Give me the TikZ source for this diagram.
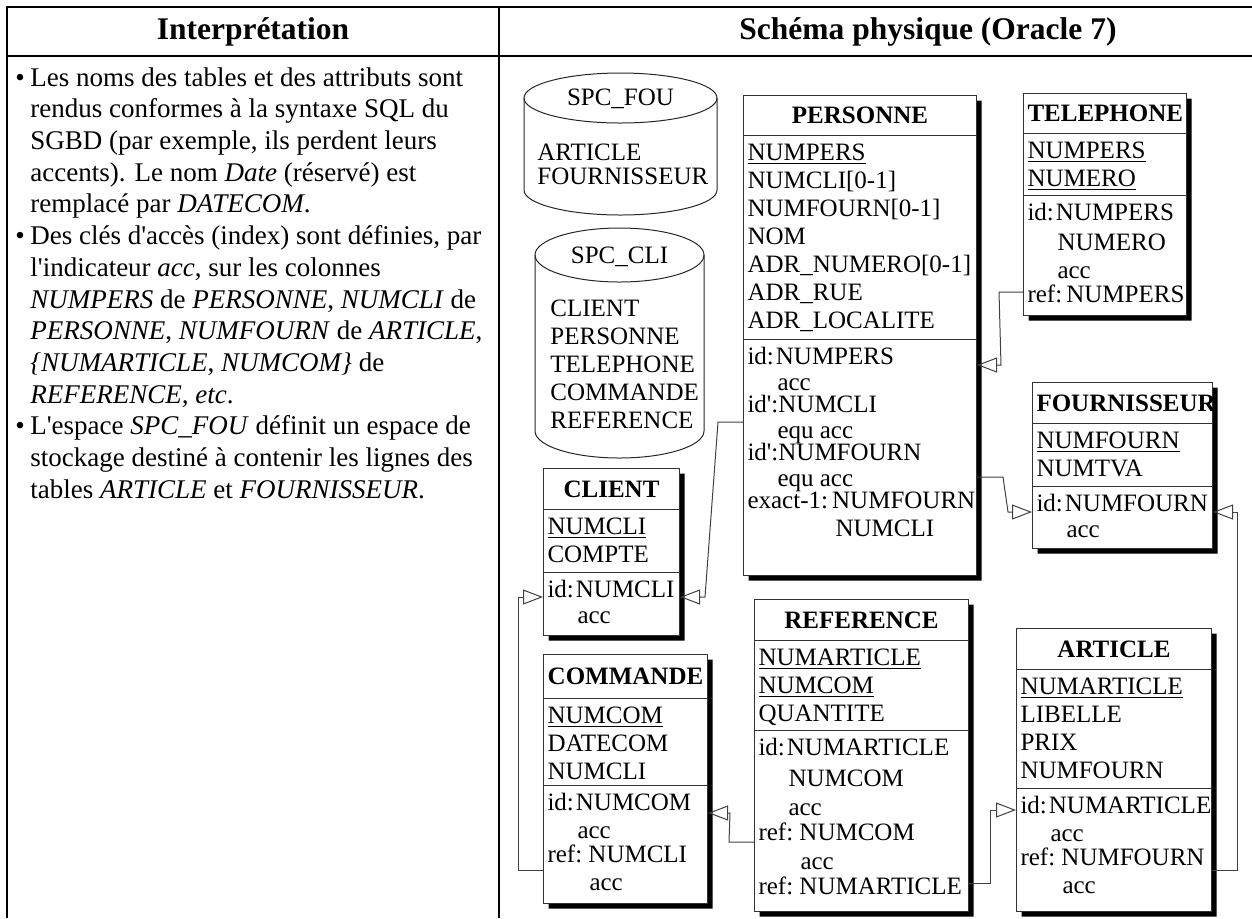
\documentclass[tikz,border=0pt]{standalone}
\usepackage{fontspec}
\setmainfont{Liberation Serif}
\usetikzlibrary{shapes.multipart,shadows,arrows.meta}

% one pixel of the reference
\newdimen\px \px=0.5pt

% identifier columns, underlined with a heavier rule
\newcommand{\cle}[1]{\leavevmode\setbox0\hbox{#1}\rlap{\rule[-2.2pt]{\wd0}{0.75pt}}\box0}

% constraint lines of a table
\newcommand{\idx}[1]{id:\kern1pt #1}
\newcommand{\acc}[2][15pt]{\\[-1pt]\hspace*{#1}#2}
\newcommand{\accbr}{\\[-3pt]}

% bullets of the left column
\newcommand{\puce}{\makebox[15\px][l]{\textbullet}}
\newcommand{\suite}{\hspace*{15\px}}

% lines of a table part, never broken
\newcommand{\lignes}{\raggedright\hyphenpenalty=10000\exhyphenpenalty=10000\rule{0pt}{12pt}}

% name, position, width, heights of the three parts, title, columns, constraints
\newcommand{\dbtable}[9]{%
  \node[dbbox, anchor=north west] (#1) at (#2) {%
    \parbox[b][#4\px][c]{\dimexpr#3\px-4pt\relax}{\centering\bfseries #7}%
    \nodepart{two}\parbox[b][#5\px][t]{\dimexpr#3\px-4pt\relax}{\lignes #8}%
    \nodepart{three}\parbox[b][#6\px][t]{\dimexpr#3\px-4pt\relax}{\lignes #9}};}

\tikzset{
  dbbox/.style={rectangle split, rectangle split parts=3, draw=black!80,
    line width=0.5pt, fill=white, inner xsep=2pt, inner ysep=0pt,
    font=\fontsize{12.5}{14}\selectfont,
    drop shadow={opacity=1, fill=black, shadow xshift=2.5pt, shadow yshift=-2.5pt}},
  fk/.style={draw=black!75, line width=0.5pt, -{Triangle[open, length=10pt, width=7.5pt]}},
  frame/.style={line width=1pt},
  cyl/.style={draw=black!85, line width=0.5pt},
  spctext/.style={inner sep=0pt, anchor=north west, align=left, font=\fontsize{12.5}{14}\selectfont},
}

\begin{document}
\begin{tikzpicture}[x=0.5pt, y=-0.5pt]
  \useasboundingbox (0,0) rectangle (1252,918);

  % the table round both columns
  \draw[frame] (7,918) -- (7,7) -- (1252,7);
  \draw[frame] (7,56) -- (1252,56);
  \draw[frame] (499,7) -- (499,918);
  \node[font=\fontsize{15.75}{18}\selectfont\bfseries] (interp) at (253,32) {Interprétation};
  \node[font=\fontsize{15.75}{18}\selectfont\bfseries] (schema) at (928,32) {Schéma physique (Oracle 7)};

  % left column
  \node[inner sep=0pt, anchor=north west, align=left, font=\fontsize{13.5}{15.85}\selectfont] (notes) at (15,67) {%
    \puce Les noms des tables et des attributs sont\\
    \suite rendus conformes à la syntaxe SQL du\\
    \suite SGBD (par exemple, ils perdent leurs\\
    \suite accents). Le nom \textit{Date} (réservé) est\\
    \suite remplacé par \textit{DATECOM}.\\
    \puce Des clés d\textquotesingle accès (index) sont définies, par\\
    \suite l\textquotesingle indicateur \textit{acc}, sur les colonnes\\
    \suite \textit{NUMPERS} de \textit{PERSONNE}, \textit{NUMCLI} de\\
    \suite \textit{PERSONNE}, \textit{NUMFOURN} de \textit{ARTICLE},\\
    \suite \textit{\{NUMARTICLE}, \textit{NUMCOM\}} de\\
    \suite \textit{REFERENCE, etc}.\\
    \puce L\textquotesingle espace \textit{SPC\_FOU} définit un espace de\\
    \suite stockage destiné à contenir les lignes des\\
    \suite tables \textit{ARTICLE} et \textit{FOURNISSEUR}.};

  % storage spaces
  \draw[cyl] (524,98) -- (524,190) arc[start angle=180, end angle=360, x radius=48.25pt, y radius=12.5pt] -- (717,98);
  \draw[cyl] (620.5,98) ellipse [x radius=48.25pt, y radius=12.5pt];
  \node[font=\fontsize{12.5}{14}\selectfont] (spcfou) at (620.5,99) {SPC\_FOU};
  \node[spctext, font=\fontsize{12.5}{12}\selectfont] (spcfoutab) at (537,144) {ARTICLE\\FOURNISSEUR};

  \draw[cyl] (535,255) -- (535,431) arc[start angle=180, end angle=360, x radius=42.25pt, y radius=13.5pt] -- (704,255);
  \draw[cyl] (619.5,255) ellipse [x radius=42.25pt, y radius=13.5pt];
  \node[font=\fontsize{12.5}{14}\selectfont] (spccli) at (619.5,257) {SPC\_CLI};
  \node[spctext] (spcclitab) at (550,300) {CLIENT\\PERSONNE\\TELEPHONE\\COMMANDE\\REFERENCE};

  % tables
  \dbtable{personne}{743,95}{233}{39}{203}{235}{PERSONNE}
    {\cle{NUMPERS}\\NUMCLI[0-1]\\NUMFOURN[0-1]\\NOM\\ADR\_NUMERO[0-1]\\ADR\_RUE\\ADR\_LOCALITE}
    {\idx{NUMPERS}\acc{acc}\accbr id\textquotesingle:NUMCLI\acc{equ acc}\accbr id\textquotesingle:NUMFOURN\acc{equ acc}\accbr exact-1:~NUMFOURN\\\hspace*{44pt}NUMCLI}
  \dbtable{telephone}{1023,93}{163}{39}{61}{119}{TELEPHONE}
    {\cle{NUMPERS}\\\cle{NUMERO}}
    {\setlength\baselineskip{15pt}\idx{NUMPERS}\\\hspace*{15pt}NUMERO\acc{acc}\accbr ref:~NUMPERS}
  \dbtable{fournisseur}{1032,382}{180}{40}{62}{61}{FOURNISSEUR}
    {\cle{NUMFOURN}\\NUMTVA}
    {\idx{NUMFOURN}\acc{acc}}
  \dbtable{client}{543,468}{136}{40}{62}{62}{CLIENT}
    {\cle{NUMCLI}\\COMPTE}
    {\idx{NUMCLI}\acc{acc}}
  \dbtable{commande}{543,654}{164}{43}{86}{117}{COMMANDE}
    {\cle{NUMCOM}\\DATECOM\\NUMCLI}
    {\setlength\baselineskip{15pt}\idx{NUMCOM}\acc{acc}\accbr ref:~NUMCLI\acc[21pt]{acc}}
  \dbtable{reference}{754,599}{214}{40}{89}{180}{REFERENCE}
    {\cle{NUMARTICLE}\\\cle{NUMCOM}\\QUANTITE}
    {\setlength\baselineskip{15.5pt}\idx{NUMARTICLE}\\\hspace*{15pt}NUMCOM\acc{acc}\accbr ref:~NUMCOM\acc[21pt]{acc}\accbr ref:~NUMARTICLE}
  \dbtable{article}{1016,628}{195}{40}{118}{122}{ARTICLE}
    {\cle{NUMARTICLE}\\LIBELLE\\PRIX\\NUMFOURN}
    {\setlength\baselineskip{15pt}\idx{NUMARTICLE}\acc{acc}\accbr ref:~NUMFOURN\acc[21pt]{acc}}

  % foreign keys
  \draw[fk] (telephone.west |- 0,292) -- (999,292) -- (1001,365) -- (personne.east |- 0,365);
  \draw[fk] (personne.west |- 0,422) -- (718,422) -- (705,597) -- (client.east |- 0,597);
  \draw[fk] (personne.east |- 0,477) -- (1003,477) -- (1008,512) -- (fournisseur.west |- 0,512);
  \draw[fk] (article.east |- 0,870) -- (1237,870) -- (1237,512) -- (fournisseur.east |- 0,512);
  \draw[fk] (reference.east |- 0,883) -- (990,883) -- (990,810) -- (article.west |- 0,810);
  \draw[fk] (reference.west |- 0,842) -- (729,842) -- (730,813) -- (commande.east |- 0,813);
  \draw[fk] (commande.west |- 0,870) -- (518,870) -- (518,597) -- (client.west |- 0,597);
\end{tikzpicture}
\end{document}
